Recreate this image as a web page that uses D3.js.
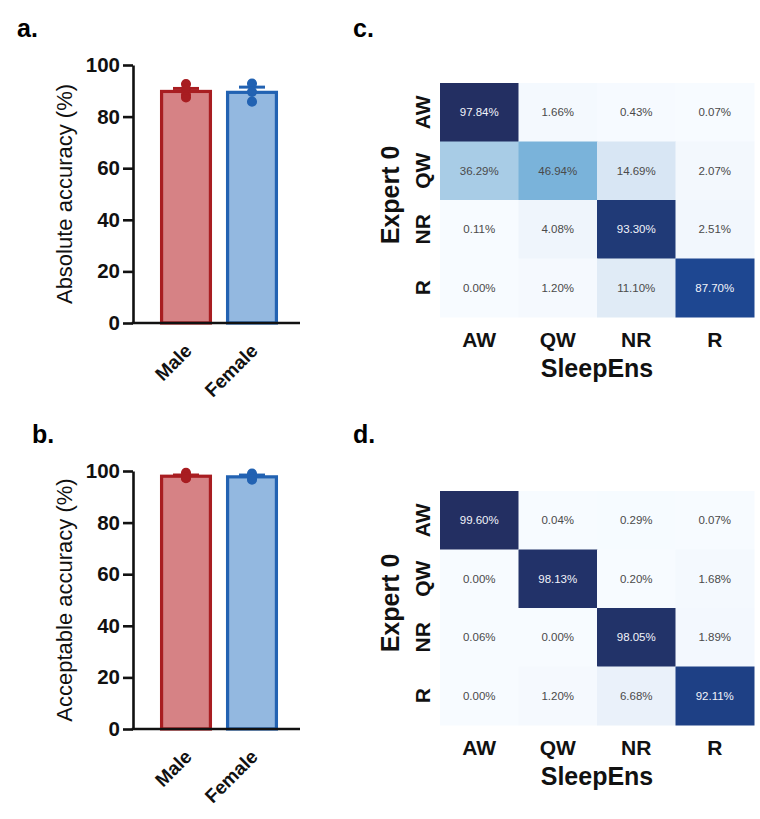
<!DOCTYPE html>
<html>
<head>
<meta charset="utf-8">
<script src="https://cdn.jsdelivr.net/npm/d3@7"></script>
<style>
  body { margin: 0; background: #fff; }
  svg { font-family: "Liberation Sans", Arial, sans-serif; }
</style>
</head>
<body>
<div class="canvas"></div>
<script>
// bar chart data
const groups = ['Male', 'Female'];
const absMale = [92.6, 90.6, 88.4, 87.4];
const absFemale = [92.8, 89.6, 85.8];
const accMale = [99.3, 98.0, 97.2, 97.4];
const accFemale = [99.0, 97.6, 96.6];
const yTicks = [0, 20, 40, 60, 80, 100];

// confusion matrices (rows: Expert 0, columns: SleepEns)
const stages = ['AW', 'QW', 'NR', 'R'];
const matrixC = [
    [97.84, 1.66, 0.43, 0.07],
    [36.29, 46.94, 14.69, 2.07],
    [0.11, 4.08, 93.30, 2.51],
    [0.00, 1.20, 11.10, 87.70]
];
const matrixD = [
    [99.60, 0.04, 0.29, 0.07],
    [0.00, 98.13, 0.20, 1.68],
    [0.06, 0.00, 98.05, 1.89],
    [0.00, 1.20, 6.68, 92.11]
];

const fills = { Male: '#d68285', Female: '#93b8e0' };
const strokes = { Male: '#a81d21', Female: '#2262b2' };

const svg = d3.select('.canvas')
    .append('svg')
    .attr('width', 760)
    .attr('height', 819);

const mean = a => d3.mean(a);
const sem = a => d3.deviation(a) / Math.sqrt(a.length);

const drawBars = (top, bottom, series, label, letter) => {
    const x = d3.scaleBand().domain(groups).range([153, 285])
        .paddingInner(0.26).paddingOuter(0.13);
    const y = d3.scaleLinear().domain([0, 100]).range([bottom, top]);
    const g = svg.append('g');

    g.append('text')
        .attr('x', letter.x).attr('y', letter.y)
        .attr('font-size', 25).attr('font-weight', 'bold')
        .text(letter.t);

    const data = groups.map((k, i) => ({ key: k, vals: series[i] }));

    g.selectAll('.bar')
        .data(data).enter()
        .append('rect')
        .attr('x', d => x(d.key))
        .attr('y', d => y(mean(d.vals)))
        .attr('width', x.bandwidth())
        .attr('height', d => y(0) - y(mean(d.vals)))
        .attr('fill', d => fills[d.key])
        .attr('stroke', d => strokes[d.key])
        .attr('stroke-width', 3.2);

    // error bars (upper half only)
    data.forEach(d => {
        const cx = x(d.key) + x.bandwidth() / 2;
        const m = mean(d.vals), e = sem(d.vals);
        g.append('line')
            .attr('x1', cx).attr('x2', cx)
            .attr('y1', y(m)).attr('y2', y(m + e))
            .attr('stroke', strokes[d.key]).attr('stroke-width', 3);
        g.append('line')
            .attr('x1', cx - 13).attr('x2', cx + 13)
            .attr('y1', y(m + e)).attr('y2', y(m + e))
            .attr('stroke', strokes[d.key]).attr('stroke-width', 3);
        g.selectAll(null)
            .data(d.vals).enter()
            .append('circle')
            .attr('cx', cx)
            .attr('cy', v => y(v))
            .attr('r', 4.3)
            .attr('fill', strokes[d.key])
            .attr('stroke', strokes[d.key])
            .attr('stroke-width', 1.5);
    });

    const yAxis = g.append('g')
        .attr('transform', 'translate(133,0)')
        .call(d3.axisLeft(y).tickValues(yTicks).tickSize(10).tickSizeOuter(0).tickPadding(3));
    yAxis.selectAll('path, line').attr('stroke', '#111').attr('stroke-width', 2.6);
    yAxis.selectAll('text')
        .attr('font-size', 20.5).attr('font-weight', 'bold')
        .attr('fill', '#111').attr('font-family', '"Liberation Sans", Arial, sans-serif');

    g.append('line')
        .attr('x1', 131.7).attr('x2', 300)
        .attr('y1', y(0)).attr('y2', y(0))
        .attr('stroke', '#111').attr('stroke-width', 2.6);

    g.selectAll('.xlab')
        .data(groups).enter()
        .append('text')
        .attr('transform', d => `translate(${x(d) + x.bandwidth() / 2 + 7},${y(0) + 29}) rotate(-45)`)
        .attr('text-anchor', 'end')
        .attr('font-size', 19).attr('font-weight', 'bold')
        .attr('fill', '#111')
        .text(d => d);

    g.append('text')
        .attr('transform', `translate(72,${(top + bottom) / 2}) rotate(-90)`)
        .attr('text-anchor', 'middle')
        .attr('font-size', 22)
        .attr('fill', '#111')
        .text(label);
};

drawBars(65, 323, [absMale, absFemale], 'Absolute accuracy (%)', { x: 17, y: 37, t: 'a.' });
drawBars(471, 729, [accMale, accFemale], 'Acceptable accuracy (%)', { x: 32, y: 443, t: 'b.' });

// colour ramp (light to dark blue)
const ramp = d3.scaleLinear()
    .domain([0, 0.12, 0.37, 0.48, 0.9, 1])
    .range(['#f7fbff', '#dfeaf6', '#a8cce6', '#7ab3da', '#1d4690', '#232f62'])
    .clamp(true);

const drawMatrix = (top, matrix, letter) => {
    const x = d3.scaleBand().domain(stages).range([440, 754]);
    const y = d3.scaleBand().domain(stages).range([top, top + 234]);
    const vmax = d3.max(matrix.flat());
    const g = svg.append('g');

    g.append('text')
        .attr('x', letter.x).attr('y', letter.y)
        .attr('font-size', 25).attr('font-weight', 'bold')
        .text(letter.t);

    const cells = [];
    matrix.forEach((row, i) => row.forEach((v, j) => cells.push({ r: stages[i], c: stages[j], v })));

    g.selectAll('.cell')
        .data(cells).enter()
        .append('rect')
        .attr('x', d => x(d.c))
        .attr('y', d => y(d.r))
        .attr('width', x.bandwidth() + 0.5)
        .attr('height', y.bandwidth() + 0.5)
        .attr('fill', d => ramp(d.v / vmax));

    g.selectAll('.val')
        .data(cells).enter()
        .append('text')
        .attr('x', d => x(d.c) + x.bandwidth() / 2)
        .attr('y', d => y(d.r) + y.bandwidth() / 2)
        .attr('dy', '0.35em')
        .attr('text-anchor', 'middle')
        .attr('font-size', 11.5)
        .attr('fill', d => d.v > 60 ? '#f2f4fa' : '#4a4a4a')
        .text(d => d.v.toFixed(2) + '%');

    g.selectAll('.rowlab')
        .data(stages).enter()
        .append('text')
        .attr('transform', d => `translate(430,${y(d) + y.bandwidth() / 2}) rotate(-90)`)
        .attr('text-anchor', 'middle')
        .attr('font-size', 21).attr('font-weight', 'bold')
        .attr('fill', '#111')
        .text(d => d);

    g.selectAll('.collab')
        .data(stages).enter()
        .append('text')
        .attr('x', d => x(d) + x.bandwidth() / 2)
        .attr('y', top + 264)
        .attr('text-anchor', 'middle')
        .attr('font-size', 21).attr('font-weight', 'bold')
        .attr('fill', '#111')
        .text(d => d);

    g.append('text')
        .attr('x', 597).attr('y', top + 294)
        .attr('text-anchor', 'middle')
        .attr('font-size', 25).attr('font-weight', 'bold')
        .attr('fill', '#111')
        .text('SleepEns');

    g.append('text')
        .attr('transform', `translate(399,${top + 112}) rotate(-90)`)
        .attr('text-anchor', 'middle')
        .attr('font-size', 25).attr('font-weight', 'bold')
        .attr('fill', '#111')
        .text('Expert 0');
};

drawMatrix(83, matrixC, { x: 353, y: 37, t: 'c.' });
drawMatrix(491, matrixD, { x: 353, y: 443, t: 'd.' });
</script>
</body>
</html>
